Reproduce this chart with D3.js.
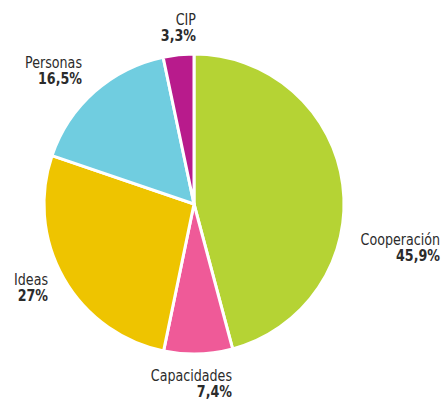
<!DOCTYPE html>
<html>
<head>
<meta charset="utf-8">
<script src="https://cdn.jsdelivr.net/npm/d3@7"></script>
<style>
  html, body { margin: 0; padding: 0; background: #fff; }
  svg text { font-family: "DejaVu Sans Condensed", "Liberation Sans Narrow", "Roboto", sans-serif; fill: #2b2b2b; }
</style>
</head>
<body>
<svg id="chart" width="443" height="401"></svg>
<script>
// Share of each area, clockwise from 12 o'clock
const categories = ["Cooperación", "Capacidades", "Ideas", "Personas", "CIP"];
const values = [45.9, 7.4, 27, 16.5, 3.3];
const valueLabels = ["45,9%", "7,4%", "27%", "16,5%", "3,3%"];
const colors = ["#b5d334", "#ef5a98", "#eec400", "#70cde0", "#b81b8c"];

// Right edge and first baseline of each label block
const labelAnchors = [[440, 245], [232, 381], [48, 285], [82, 68], [196, 25]];

const svg = d3.select("#chart");
const cx = 194, cy = 204, radius = 150;

const pie = d3.pie().sort(null).value(d => d.value);
const arc = d3.arc().innerRadius(0).outerRadius(radius);

const data = categories.map((c, i) => ({ name: c, value: values[i], label: valueLabels[i], color: colors[i] }));

const g = svg.append("g").attr("transform", `translate(${cx},${cy})`);
g.selectAll("path")
  .data(pie(data))
  .join("path")
  .attr("d", arc)
  .attr("fill", d => d.data.color)
  .attr("stroke", "#fff")
  .attr("stroke-width", 3)
  .attr("stroke-linejoin", "miter");

// Labels: narrow type, right-aligned, name over bold percentage
const labels = svg.selectAll("g.label")
  .data(data)
  .join("g")
  .attr("class", "label")
  .attr("transform", (d, i) => `translate(${labelAnchors[i][0]},${labelAnchors[i][1]}) scale(0.94,1)`);

labels.append("text")
  .attr("text-anchor", "end")
  .attr("font-size", 15)
  .text(d => d.name);

labels.append("text")
  .attr("text-anchor", "end")
  .attr("y", 16)
  .attr("font-size", 15)
  .attr("font-weight", "bold")
  .text(d => d.label);
</script>
</body>
</html>
